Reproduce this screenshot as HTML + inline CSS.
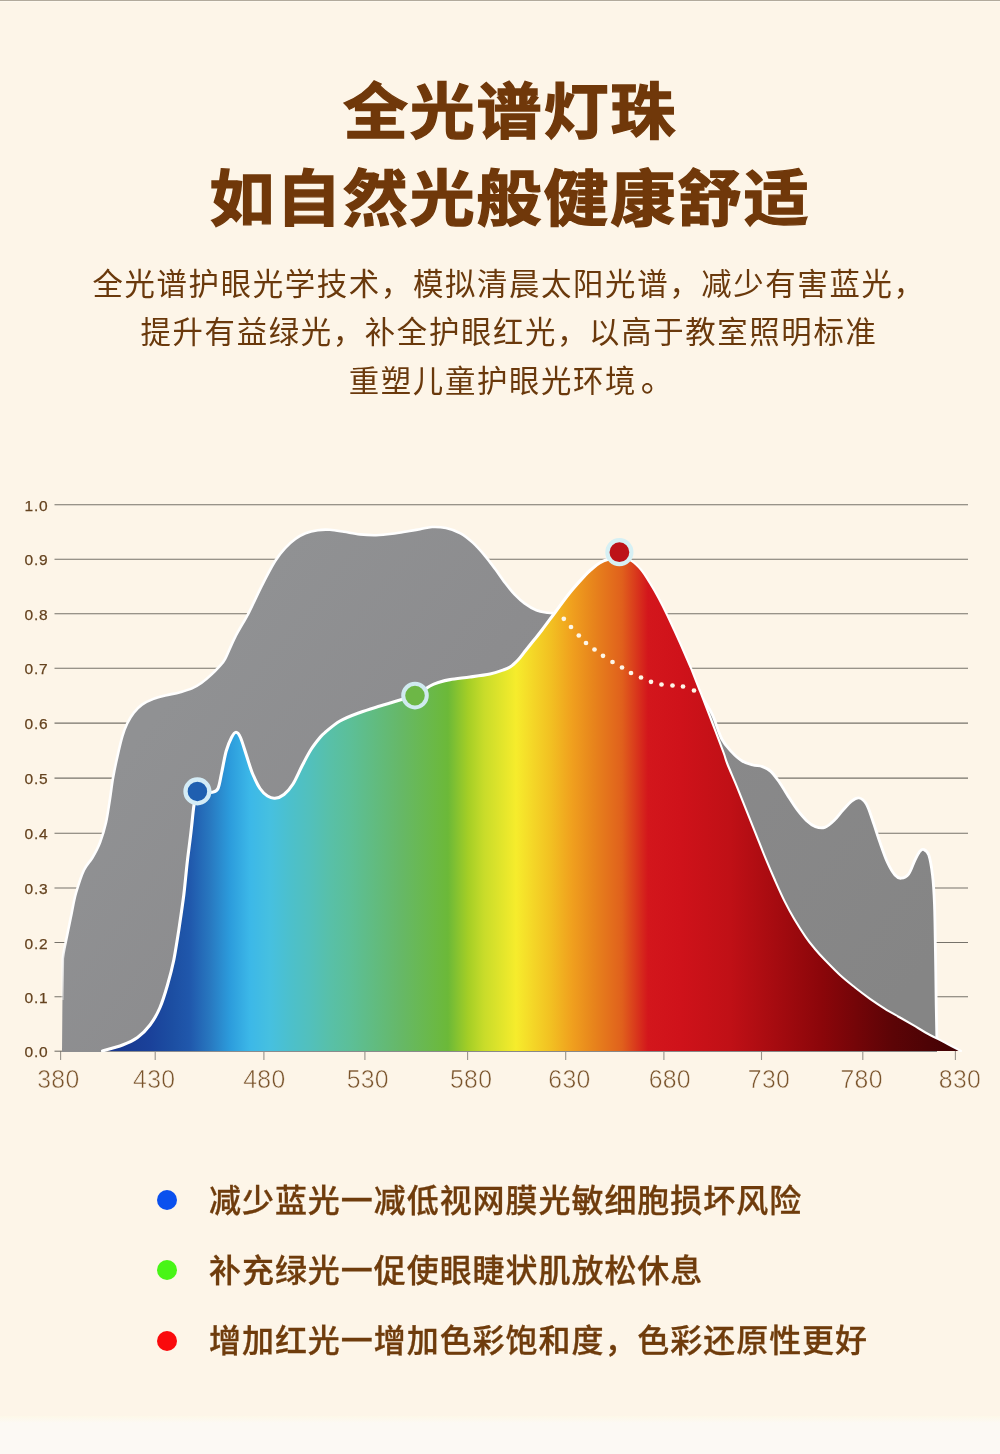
<!DOCTYPE html>
<html lang="zh-CN"><head><meta charset="utf-8"><title>全光谱灯珠</title>
<style>
html,body{margin:0;padding:0}
body{width:1000px;height:1454px;position:relative;overflow:hidden;background:#fdf5e8;
font-family:"Liberation Sans","Noto Sans CJK SC",sans-serif}
.topline{position:absolute;left:0;top:0;width:1000px;height:1px;background:#b2aa9c;border-bottom:1px solid #fef9ef}
.bottom{position:absolute;left:0;top:1416px;width:1000px;height:38px;background:linear-gradient(#fdf8e8,#fcf9f4 7px)}
h1{position:absolute;left:0;top:0;width:1000px;margin:0;text-align:center;color:#70380a;
font-weight:700;font-size:65px;line-height:84px;letter-spacing:1.8px;-webkit-text-stroke:1.4px #70380a}
h1 span{display:block;position:absolute;left:0;width:1020px;white-space:nowrap;transform:scaleY(0.945);transform-origin:50% 50%}
.sub{position:absolute;left:0;width:1018px;text-align:center;color:#6a390c;font-weight:400;
font-size:30.4px;line-height:48px;letter-spacing:1.65px;white-space:nowrap;margin:0}
.leg{position:absolute;left:209px;color:#6f3c0c;font-weight:500;font-size:32px;line-height:40px;
letter-spacing:0.95px;white-space:nowrap;margin:0;-webkit-text-stroke:0.3px #6f3c0c}
.dot{position:absolute;left:157px;width:20px;height:20px;border-radius:50%}
svg{position:absolute;left:0;top:0}
.g line{stroke:#76726a;stroke-width:1.1}
.yl text{font-family:"Liberation Sans",sans-serif;font-size:15.5px;fill:#65431f;letter-spacing:0.8px;stroke:#65431f;stroke-width:0.25px}
.xl text{font-family:"Liberation Sans",sans-serif;font-size:24.8px;fill:#7a542c;text-anchor:middle;letter-spacing:0.3px;stroke:#fdf5e8;stroke-width:0.55px}
</style></head><body>
<div class="topline"></div>
<div class="bottom"></div>
<h1><span style="top:71px">全光谱灯珠</span><span style="top:158px">如自然光般健康舒适</span></h1>
<p class="sub" style="top:259.8px">全光谱护眼光学技术，模拟清晨太阳光谱，减少有害蓝光，</p>
<p class="sub" style="top:308px">提升有益绿光，补全护眼红光，以高于教室照明标准</p>
<p class="sub" style="top:357px">重塑儿童护眼光环境<span style="display:inline-block;transform:translate(4.5px,-1px) scale(1.1);transform-origin:25% 80%">。</span></p>
<svg width="1000" height="1454" viewBox="0 0 1000 1454">
<defs>
<linearGradient id="rb" gradientUnits="userSpaceOnUse" x1="100" y1="0" x2="961" y2="0"><stop offset="0.0000" stop-color="#17348a"/><stop offset="0.0581" stop-color="#1a419a"/><stop offset="0.0836" stop-color="#1c4ea2"/><stop offset="0.1045" stop-color="#2058ac"/><stop offset="0.1278" stop-color="#2878c0"/><stop offset="0.1510" stop-color="#2c9cdc"/><stop offset="0.1742" stop-color="#3cb8e8"/><stop offset="0.1974" stop-color="#46c0e0"/><stop offset="0.2207" stop-color="#4cc0cc"/><stop offset="0.2439" stop-color="#52c0bc"/><stop offset="0.2671" stop-color="#58c0a8"/><stop offset="0.2904" stop-color="#5cbf98"/><stop offset="0.3484" stop-color="#66b868"/><stop offset="0.4042" stop-color="#6cb938"/><stop offset="0.4274" stop-color="#a4ce26"/><stop offset="0.4460" stop-color="#c8dc2a"/><stop offset="0.4832" stop-color="#f6ec2c"/><stop offset="0.5238" stop-color="#f2c022"/><stop offset="0.5482" stop-color="#f0a01e"/><stop offset="0.5714" stop-color="#e8861c"/><stop offset="0.6063" stop-color="#e0601c"/><stop offset="0.6365" stop-color="#d3161c"/><stop offset="0.6736" stop-color="#cf121a"/><stop offset="0.7317" stop-color="#c01016"/><stop offset="0.8362" stop-color="#8c060a"/><stop offset="0.9199" stop-color="#5c0406"/><stop offset="1.0000" stop-color="#400204"/></linearGradient>
<linearGradient id="lf" gradientUnits="userSpaceOnUse" x1="0" y1="940" x2="0" y2="1000"><stop offset="0" stop-color="#ffffff"/><stop offset="1" stop-color="#ffffff" stop-opacity="0.35"/></linearGradient>
<linearGradient id="gg" gradientUnits="userSpaceOnUse" x1="300" y1="530" x2="900" y2="1000"><stop offset="0" stop-color="#909193"/><stop offset="0.3" stop-color="#8c8c8e"/><stop offset="1" stop-color="#858585"/></linearGradient>
<clipPath id="cp"><rect x="0" y="480" width="1000" height="572.2"/></clipPath>
</defs>
<g class="g"><line x1="54.5" y1="504.75" x2="968" y2="504.75"/><line x1="54.5" y1="559.20" x2="968" y2="559.20"/><line x1="54.5" y1="613.70" x2="968" y2="613.70"/><line x1="54.5" y1="668.20" x2="968" y2="668.20"/><line x1="54.5" y1="723.10" x2="968" y2="723.10"/><line x1="54.5" y1="778.10" x2="968" y2="778.10"/><line x1="54.5" y1="833.30" x2="968" y2="833.30"/><line x1="54.5" y1="888.00" x2="968" y2="888.00"/><line x1="54.5" y1="942.50" x2="968" y2="942.50"/><line x1="54.5" y1="996.70" x2="968" y2="996.70"/><line x1="54.5" y1="1051.20" x2="63" y2="1051.20"/></g><g class="g" style="opacity:.75"><line x1="60.6" y1="1051" x2="60.6" y2="1060"/><line x1="155.2" y1="1051" x2="155.2" y2="1060"/><line x1="263.9" y1="1051" x2="263.9" y2="1060"/><line x1="364.9" y1="1051" x2="364.9" y2="1060"/><line x1="467.6" y1="1051" x2="467.6" y2="1060"/><line x1="565.7" y1="1051" x2="565.7" y2="1060"/><line x1="663.9" y1="1051" x2="663.9" y2="1060"/><line x1="761.5" y1="1051" x2="761.5" y2="1060"/><line x1="862.8" y1="1051" x2="862.8" y2="1060"/><line x1="955.4" y1="1051" x2="955.4" y2="1060"/></g>
<g class="yl"><text x="24.6" y="510.9">1.0</text><text x="24.6" y="565.3">0.9</text><text x="24.6" y="619.8">0.8</text><text x="24.6" y="674.3">0.7</text><text x="24.6" y="729.2">0.6</text><text x="24.6" y="784.2">0.5</text><text x="24.6" y="839.4">0.4</text><text x="24.6" y="894.1">0.3</text><text x="24.6" y="948.6">0.2</text><text x="24.6" y="1002.8">0.1</text><text x="24.6" y="1057.3">0.0</text></g>
<g class="xl"><text transform="translate(58.4,1087.5) scale(1,1.06)">380</text><text transform="translate(154.2,1087.5) scale(1,1.06)">430</text><text transform="translate(264.4,1087.5) scale(1,1.06)">480</text><text transform="translate(367.8,1087.5) scale(1,1.06)">530</text><text transform="translate(471.1,1087.5) scale(1,1.06)">580</text><text transform="translate(569.5,1087.5) scale(1,1.06)">630</text><text transform="translate(669.8,1087.5) scale(1,1.06)">680</text><text transform="translate(769,1087.5) scale(1,1.06)">730</text><text transform="translate(861.6,1087.5) scale(1,1.06)">780</text><text transform="translate(960,1087.5) scale(1,1.06)">830</text></g>
<g clip-path="url(#cp)">
<path d="M62 1052 L62.8 958.5 C63.0 956.9 63.5 953.1 64.3 949.0 C65.1 944.9 66.2 939.9 67.4 934.0 C68.6 928.1 70.2 920.3 71.6 913.5 C73.0 906.7 73.9 900.2 76.0 893.0 C78.1 885.8 81.2 875.9 84.0 870.0 C86.8 864.1 89.8 862.1 92.5 857.5 C95.2 852.9 97.8 848.3 100.0 842.5 C102.2 836.7 104.4 829.6 106.0 822.5 C107.6 815.4 108.6 807.4 109.8 800.0 C111.0 792.6 111.7 785.4 113.0 778.0 C114.3 770.6 116.0 762.6 117.6 755.6 C119.2 748.6 120.8 741.6 122.4 736.2 C124.0 730.8 125.4 727.1 127.3 723.2 C129.2 719.3 131.4 715.8 133.8 712.7 C136.2 709.6 138.7 706.9 142.0 704.6 C145.3 702.3 149.4 700.5 153.5 698.9 C157.6 697.3 162.2 696.4 166.5 695.3 C170.8 694.2 175.1 693.5 179.3 692.4 C183.6 691.2 188.3 690.0 192.0 688.4 C195.7 686.8 198.2 685.2 201.3 683.0 C204.4 680.8 207.9 677.8 210.8 675.1 C213.7 672.5 216.3 669.8 218.7 667.1 C221.1 664.5 222.3 664.2 225.0 659.2 C227.7 654.2 231.0 645.1 235.0 637.3 C239.0 629.5 244.7 620.6 249.0 612.3 C253.3 604.0 256.7 595.8 261.0 587.3 C265.3 578.8 271.0 567.8 275.0 561.3 C279.0 554.8 281.7 551.8 285.1 548.1 C288.5 544.4 291.9 541.5 295.3 539.0 C298.7 536.5 301.8 534.8 305.5 533.3 C309.2 531.8 313.7 530.8 317.8 530.2 C321.9 529.6 325.6 529.5 330.0 529.8 C334.4 530.1 339.0 531.0 344.0 531.8 C349.0 532.6 354.7 533.8 360.0 534.4 C365.3 535.0 370.7 535.3 376.0 535.2 C381.3 535.1 386.7 534.5 392.0 533.8 C397.3 533.1 403.3 532.0 408.0 531.2 C412.7 530.4 416.0 529.9 420.0 529.2 C424.0 528.5 427.7 527.2 432.0 527.0 C436.3 526.8 441.2 527.0 446.0 528.0 C450.8 529.0 456.0 530.9 460.5 533.3 C465.0 535.7 468.7 538.9 472.8 542.6 C476.9 546.4 481.3 551.4 485.0 555.8 C488.7 560.2 491.7 564.3 495.0 568.8 C498.3 573.3 501.7 578.5 505.0 582.8 C508.3 587.1 511.5 591.2 514.8 594.6 C518.1 598.0 521.0 600.8 524.6 603.4 C528.2 606.0 532.5 608.7 536.4 610.3 C540.3 611.9 545.2 612.3 548.0 612.8 C550.8 613.3 552.2 613.1 553.0 613.2 L697.0 690.0 C698.5 692.2 703.3 699.2 706.0 703.5 C708.7 707.8 710.4 710.1 713.0 716.0 C715.6 721.9 718.7 733.1 721.8 739.0 C724.9 744.9 728.0 747.9 731.4 751.6 C734.8 755.3 738.6 758.8 742.2 761.0 C745.8 763.2 749.4 764.1 752.8 765.0 C756.2 765.9 759.4 765.5 762.4 766.6 C765.4 767.7 768.0 768.8 770.8 771.4 C773.6 774.0 776.6 778.3 779.4 782.2 C782.2 786.1 784.5 790.5 787.4 795.0 C790.3 799.5 793.8 805.2 797.0 809.4 C800.2 813.6 803.3 817.5 806.4 820.4 C809.5 823.3 812.3 825.4 815.4 826.6 C818.5 827.8 821.7 828.4 824.8 827.4 C827.9 826.4 831.0 823.5 834.0 820.6 C837.0 817.7 840.0 813.3 843.0 810.0 C846.0 806.7 849.3 802.8 852.0 800.8 C854.7 798.8 856.9 797.5 859.2 798.0 C861.6 798.5 864.0 800.1 866.2 803.8 C868.5 807.4 870.2 813.5 872.5 820.0 C874.8 826.5 877.5 835.4 880.0 842.5 C882.5 849.6 885.0 857.1 887.5 862.5 C890.0 867.9 892.7 872.4 895.0 875.0 C897.3 877.6 899.0 878.5 901.2 878.2 C903.5 878.0 906.5 876.8 908.8 873.8 C911.0 870.7 913.1 863.8 915.0 860.0 C916.9 856.2 918.5 853.0 920.0 851.2 C921.5 849.5 922.3 848.9 923.8 849.5 C925.2 850.1 927.3 850.8 928.8 855.0 C930.2 859.2 931.5 866.7 932.5 875.0 C933.5 883.3 934.0 891.7 934.5 905.0 C935.0 918.3 935.2 938.3 935.5 955.0 C935.8 971.7 936.0 991.5 936.2 1005.0 C936.5 1018.5 936.7 1031.0 936.8 1036.2 L937 1052 Z" fill="url(#gg)"/>
<path d="M62.5 1000 L62.8 958.5 C63.0 956.9 63.5 953.1 64.3 949.0 C65.1 944.9 66.2 939.9 67.4 934.0 C68.6 928.1 70.2 920.3 71.6 913.5 C73.0 906.7 73.9 900.2 76.0 893.0 C78.1 885.8 81.2 875.9 84.0 870.0 C86.8 864.1 89.8 862.1 92.5 857.5 C95.2 852.9 97.8 848.3 100.0 842.5 C102.2 836.7 104.4 829.6 106.0 822.5 C107.6 815.4 108.6 807.4 109.8 800.0 C111.0 792.6 111.7 785.4 113.0 778.0 C114.3 770.6 116.0 762.6 117.6 755.6 C119.2 748.6 120.8 741.6 122.4 736.2 C124.0 730.8 125.4 727.1 127.3 723.2 C129.2 719.3 131.4 715.8 133.8 712.7 C136.2 709.6 138.7 706.9 142.0 704.6 C145.3 702.3 149.4 700.5 153.5 698.9 C157.6 697.3 162.2 696.4 166.5 695.3 C170.8 694.2 175.1 693.5 179.3 692.4 C183.6 691.2 188.3 690.0 192.0 688.4 C195.7 686.8 198.2 685.2 201.3 683.0 C204.4 680.8 207.9 677.8 210.8 675.1 C213.7 672.5 216.3 669.8 218.7 667.1 C221.1 664.5 222.3 664.2 225.0 659.2 C227.7 654.2 231.0 645.1 235.0 637.3 C239.0 629.5 244.7 620.6 249.0 612.3 C253.3 604.0 256.7 595.8 261.0 587.3 C265.3 578.8 271.0 567.8 275.0 561.3 C279.0 554.8 281.7 551.8 285.1 548.1 C288.5 544.4 291.9 541.5 295.3 539.0 C298.7 536.5 301.8 534.8 305.5 533.3 C309.2 531.8 313.7 530.8 317.8 530.2 C321.9 529.6 325.6 529.5 330.0 529.8 C334.4 530.1 339.0 531.0 344.0 531.8 C349.0 532.6 354.7 533.8 360.0 534.4 C365.3 535.0 370.7 535.3 376.0 535.2 C381.3 535.1 386.7 534.5 392.0 533.8 C397.3 533.1 403.3 532.0 408.0 531.2 C412.7 530.4 416.0 529.9 420.0 529.2 C424.0 528.5 427.7 527.2 432.0 527.0 C436.3 526.8 441.2 527.0 446.0 528.0 C450.8 529.0 456.0 530.9 460.5 533.3 C465.0 535.7 468.7 538.9 472.8 542.6 C476.9 546.4 481.3 551.4 485.0 555.8 C488.7 560.2 491.7 564.3 495.0 568.8 C498.3 573.3 501.7 578.5 505.0 582.8 C508.3 587.1 511.5 591.2 514.8 594.6 C518.1 598.0 521.0 600.8 524.6 603.4 C528.2 606.0 532.5 608.7 536.4 610.3 C540.3 611.9 545.2 612.3 548.0 612.8 C550.8 613.3 552.2 613.1 553.0 613.2" fill="none" stroke="url(#lf)" stroke-width="2.6" stroke-linejoin="round"/>
<path d="M697.0 690.0 C698.5 692.2 703.3 699.2 706.0 703.5 C708.7 707.8 710.4 710.1 713.0 716.0 C715.6 721.9 718.7 733.1 721.8 739.0 C724.9 744.9 728.0 747.9 731.4 751.6 C734.8 755.3 738.6 758.8 742.2 761.0 C745.8 763.2 749.4 764.1 752.8 765.0 C756.2 765.9 759.4 765.5 762.4 766.6 C765.4 767.7 768.0 768.8 770.8 771.4 C773.6 774.0 776.6 778.3 779.4 782.2 C782.2 786.1 784.5 790.5 787.4 795.0 C790.3 799.5 793.8 805.2 797.0 809.4 C800.2 813.6 803.3 817.5 806.4 820.4 C809.5 823.3 812.3 825.4 815.4 826.6 C818.5 827.8 821.7 828.4 824.8 827.4 C827.9 826.4 831.0 823.5 834.0 820.6 C837.0 817.7 840.0 813.3 843.0 810.0 C846.0 806.7 849.3 802.8 852.0 800.8 C854.7 798.8 856.9 797.5 859.2 798.0 C861.6 798.5 864.0 800.1 866.2 803.8 C868.5 807.4 870.2 813.5 872.5 820.0 C874.8 826.5 877.5 835.4 880.0 842.5 C882.5 849.6 885.0 857.1 887.5 862.5 C890.0 867.9 892.7 872.4 895.0 875.0 C897.3 877.6 899.0 878.5 901.2 878.2 C903.5 878.0 906.5 876.8 908.8 873.8 C911.0 870.7 913.1 863.8 915.0 860.0 C916.9 856.2 918.5 853.0 920.0 851.2 C921.5 849.5 922.3 848.9 923.8 849.5 C925.2 850.1 927.3 850.8 928.8 855.0 C930.2 859.2 931.5 866.7 932.5 875.0 C933.5 883.3 934.0 891.7 934.5 905.0 C935.0 918.3 935.2 938.3 935.5 955.0 C935.8 971.7 936.0 991.5 936.2 1005.0 C936.5 1018.5 936.7 1031.0 936.8 1036.2 L937 1040" fill="none" stroke="#ffffff" stroke-width="2.8" stroke-linejoin="round"/>
<path d="M102.5 1051.0 C105.8 1050.0 116.7 1047.2 122.5 1045.0 C128.3 1042.8 132.9 1040.8 137.5 1037.5 C142.1 1034.2 146.2 1030.0 150.0 1025.0 C153.8 1020.0 157.1 1014.2 160.0 1007.5 C162.9 1000.8 165.2 992.9 167.5 985.0 C169.8 977.1 171.9 969.2 173.8 960.0 C175.6 950.8 177.1 940.8 178.8 930.0 C180.4 919.2 182.3 906.7 183.8 895.0 C185.2 883.3 186.2 870.8 187.5 860.0 C188.8 849.2 190.2 839.2 191.2 830.0 C192.3 820.8 193.0 811.4 194.0 805.0 C195.0 798.6 195.5 793.6 197.3 791.5 C199.1 789.4 202.6 792.4 205.0 792.5 C207.4 792.6 209.8 792.9 212.0 792.2 C214.2 791.6 216.4 791.9 218.0 788.5 C219.6 785.1 220.4 778.2 221.8 772.0 C223.1 765.8 224.6 756.8 226.2 751.0 C227.9 745.2 229.9 740.6 231.5 737.5 C233.1 734.4 234.5 732.2 236.0 732.2 C237.5 732.2 238.8 733.6 240.5 737.5 C242.2 741.4 244.5 749.5 246.5 755.5 C248.5 761.5 250.2 768.0 252.5 773.5 C254.8 779.0 257.5 784.8 260.0 788.5 C262.5 792.2 265.0 794.4 267.5 796.0 C270.0 797.6 272.2 798.5 275.0 798.2 C277.8 798.0 281.0 796.9 284.0 794.5 C287.0 792.1 290.0 788.8 293.0 784.0 C296.0 779.2 299.0 771.8 302.0 766.0 C305.0 760.2 308.0 754.2 311.0 749.5 C314.0 744.8 317.7 740.3 320.0 737.5 C322.3 734.7 321.7 735.2 325.0 732.5 C328.3 729.8 334.2 724.3 340.0 721.0 C345.8 717.7 353.3 715.0 360.0 712.5 C366.7 710.0 375.0 707.6 380.0 706.0 C385.0 704.4 386.7 704.0 390.0 703.0 C393.3 702.0 395.8 701.2 400.0 700.0 C404.2 698.8 410.0 697.9 415.0 695.6 C420.0 693.3 425.8 688.3 430.0 686.0 C434.2 683.7 436.7 683.1 440.0 682.0 C443.3 680.9 445.0 680.4 450.0 679.6 C455.0 678.8 463.3 677.9 470.0 677.0 C476.7 676.1 484.7 675.1 490.0 674.0 C495.3 672.9 498.7 671.6 502.0 670.4 C505.3 669.2 507.3 668.7 510.0 667.0 C512.7 665.3 515.3 662.8 518.0 660.0 C520.7 657.2 523.3 653.3 526.0 650.0 C528.7 646.7 531.3 643.3 534.0 640.0 C536.7 636.7 538.5 634.6 542.0 630.0 C545.5 625.4 550.3 618.8 555.0 612.5 C559.7 606.2 565.0 598.7 570.0 592.5 C575.0 586.3 581.3 579.5 585.0 575.5 C588.7 571.5 589.6 570.9 592.0 568.8 C594.4 566.7 597.0 564.5 599.6 563.0 C602.2 561.5 604.2 560.5 607.5 559.6 C610.8 558.7 615.5 557.4 619.5 557.6 C623.5 557.8 627.9 558.7 631.5 560.8 C635.1 562.9 638.2 566.3 641.3 570.0 C644.4 573.7 647.0 578.3 649.9 583.0 C652.8 587.7 655.9 593.0 658.7 598.2 C661.5 603.5 664.3 609.1 666.9 614.5 C669.5 619.9 671.7 624.8 674.4 630.6 C677.1 636.5 680.1 643.2 682.9 649.6 C685.7 656.0 688.6 662.6 691.4 669.2 C694.1 675.9 696.7 682.7 699.4 689.5 C702.1 696.3 704.7 703.1 707.4 710.0 C710.1 716.9 712.7 723.8 715.4 731.0 C718.1 738.2 721.7 747.6 723.7 753.0 C725.7 758.4 725.0 757.9 727.2 763.5 C729.4 769.1 733.6 778.6 736.8 786.4 C740.0 794.2 743.2 802.4 746.4 810.4 C749.6 818.4 752.8 826.4 756.0 834.4 C759.2 842.4 762.4 850.7 765.6 858.4 C768.8 866.1 772.0 873.6 775.2 880.8 C778.4 888.0 781.6 895.2 784.8 901.6 C788.0 908.0 790.9 913.3 794.4 919.2 C797.9 925.1 802.2 931.8 805.6 936.8 C809.0 941.8 811.8 945.1 815.0 949.0 C818.2 952.9 820.8 955.7 825.0 960.0 C829.2 964.3 835.0 970.4 840.0 975.0 C845.0 979.6 850.0 983.5 855.0 987.5 C860.0 991.5 865.0 995.2 870.0 998.8 C875.0 1002.3 880.0 1005.6 885.0 1008.8 C890.0 1011.9 895.0 1014.6 900.0 1017.5 C905.0 1020.4 910.0 1023.3 915.0 1026.2 C920.0 1029.2 925.0 1032.3 930.0 1035.0 C935.0 1037.7 939.8 1039.8 945.0 1042.5 C950.2 1045.2 958.3 1049.6 961.0 1051.0 Z" fill="url(#rb)"/>
<path d="M619.5 557.6 C623.5 557.8 627.9 558.7 631.5 560.8 C635.1 562.9 638.2 566.3 641.3 570.0 C644.4 573.7 647.0 578.3 649.9 583.0 C652.8 587.7 655.9 593.0 658.7 598.2 C661.5 603.5 664.3 609.1 666.9 614.5 C669.5 619.9 671.7 624.8 674.4 630.6 C677.1 636.5 680.1 643.2 682.9 649.6 C685.7 656.0 688.6 662.6 691.4 669.2 C694.1 675.9 696.7 682.7 699.4 689.5 C702.1 696.3 704.7 703.1 707.4 710.0 C710.1 716.9 712.7 723.8 715.4 731.0 C718.1 738.2 721.7 747.6 723.7 753.0 C725.7 758.4 725.0 757.9 727.2 763.5 C729.4 769.1 733.6 778.6 736.8 786.4 C740.0 794.2 743.2 802.4 746.4 810.4 C749.6 818.4 752.8 826.4 756.0 834.4 C759.2 842.4 762.4 850.7 765.6 858.4 C768.8 866.1 772.0 873.6 775.2 880.8 C778.4 888.0 781.6 895.2 784.8 901.6 C788.0 908.0 790.9 913.3 794.4 919.2 C797.9 925.1 802.2 931.8 805.6 936.8 C809.0 941.8 811.8 945.1 815.0 949.0 C818.2 952.9 820.8 955.7 825.0 960.0 C829.2 964.3 835.0 970.4 840.0 975.0 C845.0 979.6 850.0 983.5 855.0 987.5 C860.0 991.5 865.0 995.2 870.0 998.8 C875.0 1002.3 880.0 1005.6 885.0 1008.8 C890.0 1011.9 895.0 1014.6 900.0 1017.5 C905.0 1020.4 910.0 1023.3 915.0 1026.2 C920.0 1029.2 925.0 1032.3 930.0 1035.0 C935.0 1037.7 939.8 1039.8 945.0 1042.5 C950.2 1045.2 958.3 1049.6 961.0 1051.0" fill="none" stroke="#ffffff" stroke-width="2.1" stroke-linecap="round" stroke-linejoin="round"/>
<path d="M102.5 1051.0 C105.8 1050.0 116.7 1047.2 122.5 1045.0 C128.3 1042.8 132.9 1040.8 137.5 1037.5 C142.1 1034.2 146.2 1030.0 150.0 1025.0 C153.8 1020.0 157.1 1014.2 160.0 1007.5 C162.9 1000.8 165.2 992.9 167.5 985.0 C169.8 977.1 171.9 969.2 173.8 960.0 C175.6 950.8 177.1 940.8 178.8 930.0 C180.4 919.2 182.3 906.7 183.8 895.0 C185.2 883.3 186.2 870.8 187.5 860.0 C188.8 849.2 190.2 839.2 191.2 830.0 C192.3 820.8 193.0 811.4 194.0 805.0 C195.0 798.6 195.5 793.6 197.3 791.5 C199.1 789.4 202.6 792.4 205.0 792.5 C207.4 792.6 209.8 792.9 212.0 792.2 C214.2 791.6 216.4 791.9 218.0 788.5 C219.6 785.1 220.4 778.2 221.8 772.0 C223.1 765.8 224.6 756.8 226.2 751.0 C227.9 745.2 229.9 740.6 231.5 737.5 C233.1 734.4 234.5 732.2 236.0 732.2 C237.5 732.2 238.8 733.6 240.5 737.5 C242.2 741.4 244.5 749.5 246.5 755.5 C248.5 761.5 250.2 768.0 252.5 773.5 C254.8 779.0 257.5 784.8 260.0 788.5 C262.5 792.2 265.0 794.4 267.5 796.0 C270.0 797.6 272.2 798.5 275.0 798.2 C277.8 798.0 281.0 796.9 284.0 794.5 C287.0 792.1 290.0 788.8 293.0 784.0 C296.0 779.2 299.0 771.8 302.0 766.0 C305.0 760.2 308.0 754.2 311.0 749.5 C314.0 744.8 317.7 740.3 320.0 737.5 C322.3 734.7 321.7 735.2 325.0 732.5 C328.3 729.8 334.2 724.3 340.0 721.0 C345.8 717.7 353.3 715.0 360.0 712.5 C366.7 710.0 375.0 707.6 380.0 706.0 C385.0 704.4 386.7 704.0 390.0 703.0 C393.3 702.0 395.8 701.2 400.0 700.0 C404.2 698.8 410.0 697.9 415.0 695.6 C420.0 693.3 425.8 688.3 430.0 686.0 C434.2 683.7 436.7 683.1 440.0 682.0 C443.3 680.9 445.0 680.4 450.0 679.6 C455.0 678.8 463.3 677.9 470.0 677.0 C476.7 676.1 484.7 675.1 490.0 674.0 C495.3 672.9 498.7 671.6 502.0 670.4 C505.3 669.2 507.3 668.7 510.0 667.0 C512.7 665.3 515.3 662.8 518.0 660.0 C520.7 657.2 523.3 653.3 526.0 650.0 C528.7 646.7 531.3 643.3 534.0 640.0 C536.7 636.7 538.5 634.6 542.0 630.0 C545.5 625.4 550.3 618.8 555.0 612.5 C559.7 606.2 565.0 598.7 570.0 592.5 C575.0 586.3 581.3 579.5 585.0 575.5 C588.7 571.5 589.6 570.9 592.0 568.8 C594.4 566.7 597.0 564.5 599.6 563.0 C602.2 561.5 604.2 560.5 607.5 559.6 C610.8 558.7 615.5 557.4 619.5 557.6" fill="none" stroke="#ffffff" stroke-width="3.1" stroke-linecap="round" stroke-linejoin="round"/>
</g>
<g fill="#fdf6e8"><circle cx="563.8" cy="618.8" r="2.35"/><circle cx="571.0" cy="627.0" r="2.35"/><circle cx="578.8" cy="635.5" r="2.35"/><circle cx="586.0" cy="643.0" r="2.35"/><circle cx="594.5" cy="649.5" r="2.35"/><circle cx="603.0" cy="655.8" r="2.35"/><circle cx="612.5" cy="662.0" r="2.35"/><circle cx="622.0" cy="667.5" r="2.35"/><circle cx="631.0" cy="673.0" r="2.35"/><circle cx="641.0" cy="677.5" r="2.35"/><circle cx="651.0" cy="681.8" r="2.35"/><circle cx="661.5" cy="684.5" r="2.35"/><circle cx="672.5" cy="685.5" r="2.35"/><circle cx="683.0" cy="686.5" r="2.35"/><circle cx="694.0" cy="690.5" r="2.35"/></g>
<circle cx="197.4" cy="791.4" r="11.9" fill="#1f5fb0" stroke="#d4ecf6" stroke-width="4.3"/>
<circle cx="415" cy="695.6" r="11.8" fill="#6db746" stroke="#d0eaf0" stroke-width="4"/>
<circle cx="619.4" cy="552.2" r="12" fill="#bd1218" stroke="#d6f0f4" stroke-width="4.2"/>
</svg>
<div class="dot" style="top:1190px;background:#0a50ee"></div>
<div class="dot" style="top:1260px;background:#48f516"></div>
<div class="dot" style="top:1331px;background:#fa0a0c"></div>
<p class="leg" style="top:1180.5px">减少蓝光一减低视网膜光敏细胞损坏风险</p>
<p class="leg" style="top:1251px">补充绿光一促使眼睫状肌放松休息</p>
<p class="leg" style="top:1321px">增加红光一增加色彩饱和度，色彩还原性更好</p>
</body></html>
